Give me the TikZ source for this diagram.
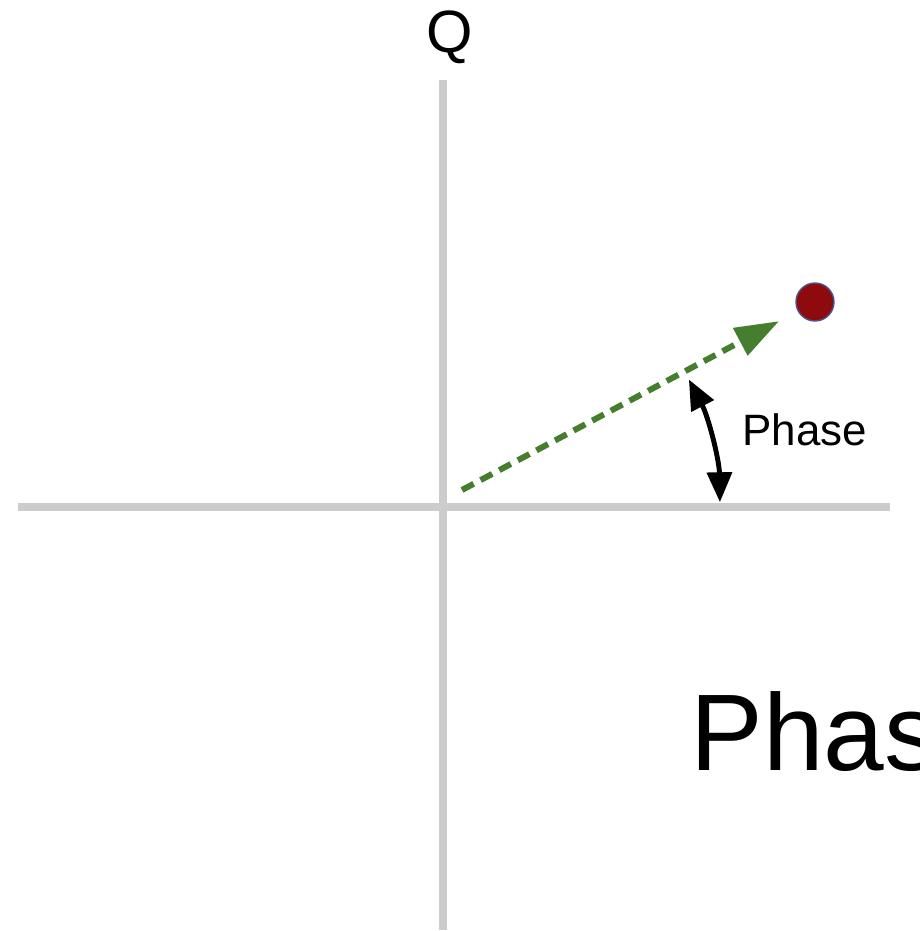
\documentclass[tikz,border=0pt]{standalone}
\usepackage{fontspec}
\setmainfont{Liberation Sans}
\usepackage{xcolor}
\usepackage{tikz}
\usetikzlibrary{arrows.meta, positioning}

\definecolor{axisgray}{HTML}{CCCCCC}
\definecolor{vecgreen}{HTML}{457E2E}
\definecolor{dotred}{HTML}{8E0A0C}
\definecolor{dotblue}{HTML}{46548F}

\begin{document}
\begin{tikzpicture}[
    x=0.02cm, y=0.02cm,
    axis/.style={draw=axisgray, line width=4.5pt},
    vec/.style={-{Triangle[length=25pt, width=17pt]}, draw=vecgreen, line width=3.4pt, dash pattern=on 7.5pt off 4.5pt},
    anglearrow/.style={{Triangle[length=17pt, width=14pt]}-{Triangle[length=17pt, width=14pt]}, line width=2.8pt},
    point/.style={circle, fill=dotred, draw=dotblue, line width=0.8pt, minimum size=0.76cm, inner sep=0pt},
    label/.style={inner sep=0pt, anchor=base west}
]
    % Frame
    \useasboundingbox (-443,-424) rectangle (477,507);
    \clip (-443,-424) rectangle (477,507);

    % Axes
    \coordinate (o) at (0,0);
    \coordinate (west) at (-425,0);
    \coordinate (east) at (447,0);
    \coordinate (north) at (0,427);
    \coordinate (south) at (0,-423);
    \foreach \i/\j in {west/east, north/south} {
        \draw[axis] (\i) -- (\j);
    }
    \node[inner sep=0pt, anchor=base, font=\fontsize{34}{40}\selectfont] (qlabel) at (7,455) {Q};

    % Vector and point
    \node[point] (dot) at (372,205) {};
    \coordinate (tail) at (19,17);
    \draw[vec, shorten >=12pt] (tail) -- (dot);

    % Phase angle
    \coordinate (a0) at (1:277);
    \draw[anglearrow] (a0) arc[start angle=1, end angle=27.4, radius=277];
    \node[label, font=\fontsize{25}{30}\selectfont] (phase) at (299,62) {Phase};

    % Title
    \node[label, font=\fontsize{62}{74}\selectfont] (title) at (247,-263) {Phas};
\end{tikzpicture}
\end{document}
